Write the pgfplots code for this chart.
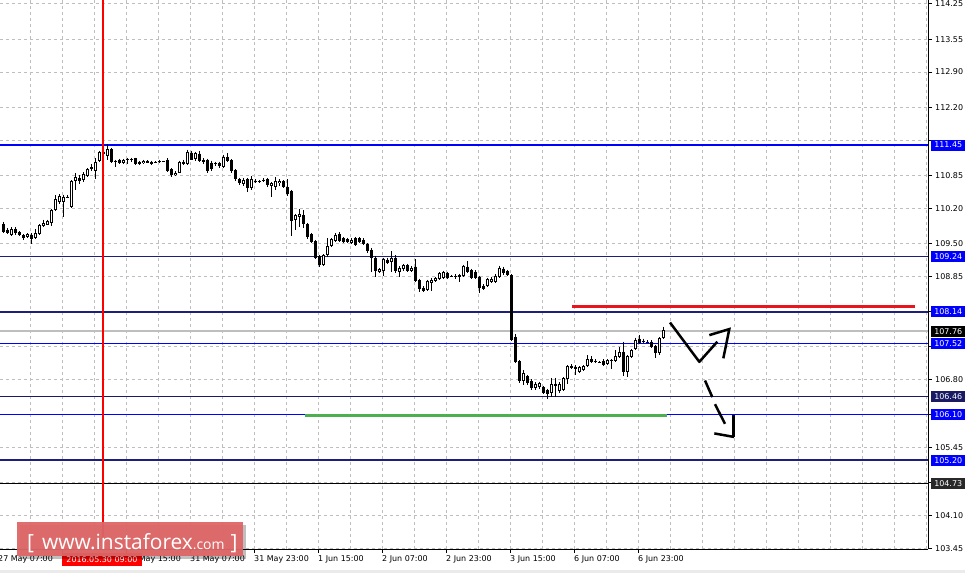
\documentclass[border=0pt]{standalone}
\usepackage{fontspec}
\setmainfont{DejaVu Sans}
\newfontfamily\wmfont{Open Sans}
\usepackage{pgfplots}
\usepackage{pgfplotstable}
\pgfplotsset{compat=1.18}

\definecolor{lvlblue}{RGB}{0,0,255}
\definecolor{lvlnavy}{RGB}{30,30,125}
\definecolor{lvlmid}{RGB}{25,25,100}
\definecolor{boxdark}{RGB}{40,40,40}
\definecolor{gridgray}{RGB}{190,190,190}
\definecolor{segred}{RGB}{232,20,30}
\definecolor{seggreen}{RGB}{76,175,80}
\definecolor{wmred}{RGB}{222,102,102}

% H1 candles: i = bar number, o h l c
\pgfplotstableread{
i o h l c
0 109.89 109.93 109.71 109.73
1 109.77 109.80 109.69 109.71
2 109.67 109.82 109.65 109.78
3 109.79 109.82 109.67 109.70
4 109.72 109.74 109.64 109.67
5 109.67 109.69 109.57 109.60
6 109.62 109.70 109.60 109.68
7 109.67 109.70 109.48 109.59
8 109.60 109.78 109.58 109.70
9 109.68 109.88 109.66 109.87
10 109.85 109.97 109.83 109.90
11 109.87 109.97 109.86 109.95
12 109.91 110.18 109.85 110.16
13 110.16 110.46 110.15 110.38
14 110.33 110.48 110.28 110.44
15 110.33 110.47 110.03 110.43
16 110.43 110.46 110.40 110.42
17 110.23 110.76 110.21 110.74
18 110.73 110.89 110.55 110.81
19 110.79 110.86 110.68 110.73
20 110.76 110.91 110.72 110.87
21 110.84 110.99 110.82 110.97
22 110.97 111.07 110.93 111.01
23 110.94 111.19 110.77 111.12
24 111.13 111.34 111.11 111.32
25 111.32 111.36 111.25 111.27
26 111.24 111.47 111.16 111.37
27 111.37 111.39 111.09 111.12
28 111.13 111.16 111.02 111.12
29 111.16 111.18 111.08 111.10
30 111.09 111.18 111.07 111.16
31 111.17 111.19 111.08 111.16
32 111.17 111.20 111.12 111.16
33 111.19 111.20 111.06 111.07
34 111.08 111.14 111.06 111.12
35 111.09 111.16 111.07 111.14
36 111.14 111.15 111.09 111.10
37 111.08 111.14 111.06 111.12
38 111.12 111.13 111.10 111.11
39 111.12 111.16 111.10 111.13
40 111.13 111.14 111.11 111.12
41 111.16 111.19 110.92 110.94
42 110.97 110.99 110.81 110.86
43 110.85 110.93 110.83 110.90
44 110.90 111.14 110.89 111.12
45 111.12 111.16 111.06 111.08
46 111.08 111.36 111.06 111.32
47 111.30 111.34 111.15 111.16
48 111.17 111.32 111.14 111.29
49 111.28 111.34 111.11 111.14
50 111.16 111.19 111.07 111.12
51 111.16 111.18 110.90 110.94
52 111.10 111.14 110.93 110.97
53 111.08 111.12 111.04 111.09
54 111.09 111.12 111.00 111.04
55 111.02 111.26 111.00 111.22
56 111.22 111.29 111.12 111.14
57 111.15 111.17 110.90 110.94
58 110.95 110.98 110.74 110.77
59 110.77 110.80 110.65 110.69
60 110.68 110.80 110.64 110.76
61 110.77 110.80 110.52 110.59
62 110.59 110.83 110.55 110.77
63 110.74 110.77 110.70 110.73
64 110.73 110.76 110.70 110.74
65 110.76 110.79 110.72 110.75
66 110.77 110.80 110.62 110.66
67 110.63 110.71 110.43 110.69
68 110.61 110.82 110.56 110.74
69 110.69 110.77 110.64 110.74
70 110.73 110.75 110.59 110.61
71 110.61 110.77 110.44 110.48
72 110.53 110.56 109.65 109.95
73 109.97 110.09 109.77 110.06
74 110.02 110.18 109.82 110.09
75 110.06 110.16 109.80 109.88
76 109.89 109.91 109.58 109.63
77 109.68 109.71 109.50 109.53
78 109.55 109.57 109.19 109.22
79 109.25 109.27 109.04 109.07
80 109.07 109.28 109.05 109.27
81 109.27 109.60 109.24 109.45
82 109.45 109.60 109.43 109.58
83 109.54 109.70 109.52 109.67
84 109.69 109.72 109.52 109.54
85 109.60 109.63 109.50 109.53
86 109.58 109.61 109.50 109.52
87 109.50 109.60 109.48 109.57
88 109.60 109.63 109.45 109.47
89 109.60 109.63 109.51 109.53
90 109.57 109.60 109.47 109.49
91 109.49 109.51 109.31 109.34
92 109.37 109.40 108.94 109.22
93 109.22 109.25 108.84 108.96
94 108.94 109.01 108.92 108.99
95 108.96 109.22 108.86 109.20
96 109.18 109.22 109.10 109.12
97 109.14 109.34 108.94 109.22
98 109.22 109.26 108.92 108.96
99 108.94 109.05 108.84 109.02
100 108.99 109.10 108.96 109.07
101 109.08 109.10 108.94 108.96
102 108.96 109.05 108.94 109.02
103 109.04 109.19 108.73 108.76
104 108.77 108.80 108.53 108.60
105 108.62 108.65 108.53 108.56
106 108.58 108.78 108.56 108.76
107 108.71 108.82 108.55 108.77
108 108.76 108.84 108.74 108.81
109 108.79 108.93 108.77 108.91
110 108.81 108.96 108.79 108.93
111 108.91 108.94 108.79 108.82
112 108.86 108.88 108.83 108.85
113 108.85 108.89 108.79 108.84
114 108.84 108.90 108.74 108.88
115 108.86 109.08 108.84 109.06
116 109.04 109.15 108.91 108.93
117 108.97 109.00 108.80 108.82
118 108.94 108.97 108.80 108.82
119 108.84 108.86 108.51 108.61
120 108.66 108.69 108.57 108.60
121 108.66 108.82 108.63 108.80
122 108.74 108.84 108.72 108.80
123 108.74 108.89 108.72 108.86
124 108.84 109.06 108.82 109.02
125 109.00 109.04 108.88 108.91
126 108.95 108.98 108.85 108.87
127 108.87 108.89 107.56 107.58
128 107.65 107.70 107.12 107.14
129 107.16 107.18 106.74 106.77
130 106.77 106.98 106.69 106.92
131 106.86 106.89 106.70 106.73
132 106.77 106.80 106.60 106.63
133 106.63 106.75 106.60 106.72
134 106.65 106.76 106.62 106.73
135 106.65 106.67 106.52 106.54
136 106.59 106.62 106.41 106.51
137 106.54 106.83 106.45 106.71
138 106.72 106.83 106.45 106.67
139 106.58 106.75 106.54 106.71
140 106.59 106.84 106.57 106.82
141 106.80 107.09 106.72 107.07
142 107.07 107.10 107.00 107.02
143 107.05 107.08 106.89 107.00
144 106.94 107.07 106.92 107.05
145 106.98 107.08 106.96 107.06
146 107.06 107.28 107.05 107.20
147 107.20 107.26 107.12 107.14
148 107.16 107.20 107.12 107.15
149 107.15 107.17 107.13 107.15
150 107.17 107.20 107.06 107.09
151 107.11 107.21 107.09 107.19
152 107.19 107.21 107.00 107.18
153 107.17 107.38 107.15 107.26
154 107.25 107.44 107.23 107.35
155 107.35 107.55 106.86 106.94
156 106.94 107.28 106.84 107.26
157 107.25 107.40 107.23 107.38
158 107.40 107.63 107.38 107.58
159 107.60 107.68 107.50 107.53
160 107.57 107.61 107.52 107.57
161 107.55 107.58 107.52 107.55
162 107.55 107.58 107.43 107.45
163 107.47 107.49 107.22 107.33
164 107.33 107.64 107.28 107.62
165 107.62 107.85 107.60 107.78
}\candles

\pgfplotsset{
  wick/.style={draw=none, mark=none, forget plot,
    error bars/.cd, y dir=minus, y explicit, error mark=none,
    error bar style={draw=black, solid, line width=1bp, line cap=butt}},
  body/.style={draw=none, mark=none, forget plot,
    error bars/.cd, y dir=minus, y explicit, error mark=none,
    error bar style={draw=#1, solid, line width=3bp, line cap=butt}},
  inner/.style={draw=none, mark=none, forget plot,
    error bars/.cd, y dir=minus, y explicit, error mark=none,
    error bar style={draw=white, solid, line width=1bp, line cap=butt}},
  level/.style={forget plot, no markers, line width=1.3bp, draw=#1, color=#1},
}
\newcommand{\lvlbox}[3]{% value, box colour, text
  \node[fill=#2, text=white, anchor=west, inner sep=0pt, minimum width=34bp,
        minimum height=11bp, font=\fontsize{8}{9}\selectfont]
        at (axis cs:231.25,#1) [xshift=3bp] {#3};}

\begin{document}
\begin{tikzpicture}
\useasboundingbox (0,0) rectangle (965bp,573bp);
\begin{axis}[
  at={(0,24bp)}, anchor=south west,
  scale only axis, width=928bp, height=549bp,
  xmin=-0.75, xmax=231.25,
  ymin=103.437, ymax=114.329,
  clip=false,
  axis x line*=bottom, axis y line*=right,
  axis line style={black, line width=1bp},
  tick align=outside,
  major tick length=4bp, minor tick length=0pt,
  tick style={black, line width=1bp},
  xtick={14.75,30.75,...,158.75},
  xticklabels={,30 May 15:00,31 May 07:00,31 May 23:00,1 Jun 15:00,
    2 Jun 07:00,2 Jun 23:00,3 Jun 15:00,6 Jun 07:00,6 Jun 23:00},
  minor xtick={6.75,14.75,...,230.75},
  xminorgrids=true, xmajorgrids=false,
  ytick={103.45,104.10,104.75,105.45,106.10,106.80,107.45,108.15,108.85,
    109.50,110.20,110.85,111.55,112.20,112.90,113.55,114.25},
  yticklabels={103.45,104.10,,105.45,,106.80,,,108.85,
    109.50,110.20,110.85,,112.20,112.90,113.55,114.25},
  ymajorgrids=true,
  grid style={gridgray, dash pattern=on 3bp off 3bp, line width=1bp},
  minor grid style={gridgray, dash pattern=on 3bp off 3bp, line width=1bp},
  tick label style={font=\fontsize{8}{9}\selectfont, text=black},
  xticklabel style={anchor=north west, inner sep=0pt, xshift=0bp, yshift=-2bp},
  yticklabel style={anchor=west, inner sep=0pt, xshift=3bp},
]

% horizontal levels
\addplot[level=lvlblue] coordinates {(-0.75,111.45) (231.25,111.45)};
\addplot[level=lvlnavy] coordinates {(-0.75,109.24) (231.25,109.24)};
\addplot[level=lvlnavy] coordinates {(-0.75,108.14) (231.25,108.14)};
\addplot[level=gridgray] coordinates {(-0.75,107.76) (231.25,107.76)};
\addplot[level=lvlblue] coordinates {(-0.75,107.52) (231.25,107.52)};
\addplot[level=lvlmid] coordinates {(-0.75,106.46) (231.25,106.46)};
\addplot[level=lvlblue] coordinates {(-0.75,106.10) (231.25,106.10)};
\addplot[level=lvlnavy] coordinates {(-0.75,105.20) (231.25,105.20)};
\addplot[level=black] coordinates {(-0.75,104.73) (231.25,104.73)};

% candles
\addplot[wick] table[x=i, y=h, y error minus expr={\thisrow{h}-\thisrow{l}}] {\candles};
\addplot[body=black] table[x=i, y expr={max(\thisrow{o},\thisrow{c})},
  y error minus expr={max(abs(\thisrow{o}-\thisrow{c}),0.02)}] {\candles};
\addplot[inner] table[x=i, y expr={\thisrow{c}-0.02},
  y error minus expr={\thisrow{c}>\thisrow{o} ? max(\thisrow{c}-\thisrow{o}-0.04,0) : 0}] {\candles};

% support / resistance segments
\addplot[forget plot, no markers, draw=segred, line width=3bp] coordinates {(142.25,108.24) (228,108.24)};
\addplot[forget plot, no markers, draw=seggreen, line width=3bp] coordinates {(75.5,106.09) (166,106.09)};

% hand-drawn arrows
\addplot[forget plot, no markers, black, line width=2.5bp, line join=round]
  coordinates {(166.75,107.93) (174.08,107.15) (178.58,107.55)};
\addplot[forget plot, no markers, black, line width=2.5bp]
  coordinates {(176.58,107.68) (181.58,107.80) (180.08,107.22)};
\addplot[forget plot, no markers, black, line width=2.5bp]
  coordinates {(175.5,106.78) (177.33,106.45)};
\addplot[forget plot, no markers, black, line width=2.5bp]
  coordinates {(178,106.31) (180.5,105.92)};
\addplot[forget plot, no markers, black, line width=2.5bp]
  coordinates {(182.58,106.10) (182.58,105.66)};
\addplot[forget plot, no markers, black, line width=2.5bp]
  coordinates {(177.83,105.73) (182.75,105.66)};

% crosshair
\addplot[forget plot, no markers, draw=red, color=red, line width=1.3bp] coordinates {(25,103.437) (25,114.329)};

% first, partly hidden time label
\node[anchor=north west, inner sep=0pt, font=\fontsize{8}{9}\selectfont]
  at (axis cs:-1.25,103.437) [yshift=-6bp] {27 May 07:00};

% price boxes on the right
\lvlbox{111.45}{lvlblue}{111.45}
\lvlbox{109.24}{lvlblue}{109.24}
\lvlbox{108.14}{lvlblue}{108.14}
\lvlbox{107.76}{black}{107.76}
\lvlbox{107.52}{lvlblue}{107.52}
\lvlbox{106.46}{lvlmid}{106.46}
\lvlbox{106.10}{lvlblue}{106.10}
\lvlbox{105.20}{lvlblue}{105.20}
\lvlbox{104.73}{boxdark}{104.73}
\end{axis}

% date of the crosshair
\fill[red] (62bp,7bp) rectangle (142bp,20bp);
\node[text=white, inner sep=0pt, font=\fontsize{8}{9}\selectfont] at (102bp,13.5bp) {2016.05.30 09:00};

% watermark
\fill[black, opacity=0.25] (20bp,14bp) rectangle (246bp,48bp);
\fill[wmred, opacity=0.95] (17bp,17bp) rectangle (243bp,51bp);
\node[text=white, anchor=base west, inner sep=0pt] at (27bp,24bp)
  {\wmfont\fontsize{21}{21}\selectfont[\hspace{8bp}www.instaforex\fontsize{14}{14}\selectfont.com\hspace{6bp}\fontsize{21}{21}\selectfont]};

% bottom strip
\fill[black!8] (0,0) rectangle (965bp,3bp);
\end{tikzpicture}
\end{document}
